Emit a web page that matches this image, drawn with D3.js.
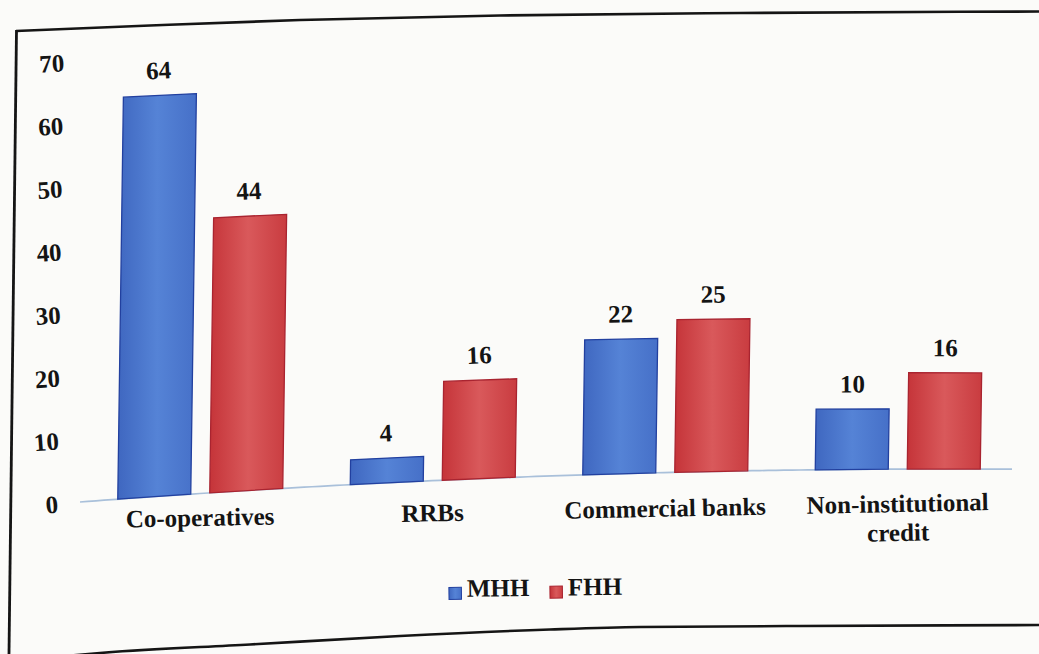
<!DOCTYPE html>
<html>
<head>
<meta charset="utf-8">
<script src="https://cdn.jsdelivr.net/npm/d3@7"></script>
<style>
  html, body { margin: 0; padding: 0; background: #fbfbf9; }
  svg { display: block; }
  text { font-family: "Liberation Serif", "Times New Roman", serif; font-weight: bold; fill: #141414; }
</style>
</head>
<body>
<svg id="chart" width="1039" height="654"></svg>
<script>
// Source of credit by household head (%)
const categories = ["Co-operatives", "RRBs", "Commercial banks", "Non-institutional credit"];
const categoryLines = [["Co-operatives"], ["RRBs"], ["Commercial banks"], ["Non-institutional", "credit"]];
const seriesNames = ["MHH", "FHH"];
const mhhValues = [64, 4, 22, 10];
const fhhValues = [44, 16, 25, 16];
const yTickValues = [0, 10, 20, 30, 40, 50, 60, 70];

const svg = d3.select("#chart");

// The printed figure lies on a gently curled page: chart-space points
// (x along the axis, h = height above the axis) are projected onto it.
const SHEAR = 0.014;
const baseY = x => 469 + 4.36e-5 * (x - 950) * (x - 950);
const depth = x => (6.32 - 0.00032 * x) / 6.3;
const project = (x, h) => [x + SHEAR * h, baseY(x) - h * depth(x)];
const slopeAt = (x, h) => (project(x + 1, h)[1] - project(x - 1, h)[1]) / 2;
const deg = s => Math.atan(s) * 180 / Math.PI;

// scales
const x0 = d3.scaleBand().domain(categories).range([84, 1014]);
const x1 = d3.scaleBand().domain(seriesNames).range([33.75, 198.75]).paddingInner(0.2065);
const y = d3.scaleLinear().domain([0, 70]).range([0, 441]);
const fillId = d3.scaleOrdinal().domain(seriesNames).range(["gradMHH", "gradFHH"]);
const edge = d3.scaleOrdinal().domain(seriesNames).range(["#22409f", "#a92430"]);

// bar gradients
const defs = svg.append("defs");
const gradStops = {
  gradMHH: ["#3f67c0", "#5583d6", "#4670c8"],
  gradFHH: ["#c53439", "#d9595b", "#c93c40"]
};
Object.entries(gradStops).forEach(([id, cols]) => {
  const g = defs.append("linearGradient").attr("id", id)
    .attr("x1", "0%").attr("x2", "100%").attr("y1", "0%").attr("y2", "0%");
  g.append("stop").attr("offset", "0%").attr("stop-color", cols[0]);
  g.append("stop").attr("offset", "50%").attr("stop-color", cols[1]);
  g.append("stop").attr("offset", "100%").attr("stop-color", cols[2]);
});

// outer frame of the figure
const frameLine = d3.line().curve(d3.curveMonotoneX);
svg.append("path")
  .attr("d", frameLine([[16, 31], [150, 25.5], [300, 20], [500, 15.5], [740, 13], [1039, 11.5]]))
  .attr("fill", "none").attr("stroke", "#151515").attr("stroke-width", 2.6);
svg.append("path")
  .attr("d", d3.line()([[16.5, 30], [9, 654]]))
  .attr("fill", "none").attr("stroke", "#151515").attr("stroke-width", 2.8);
svg.append("path")
  .attr("d", frameLine([[60, 656.5], [100, 653], [250, 644.5], [400, 636], [550, 629.5], [640, 627], [800, 626], [1039, 625]]))
  .attr("fill", "none").attr("stroke", "#151515").attr("stroke-width", 2.6);

// rows of data
const rows = categories.map((c, i) => ({
  cat: c,
  lines: categoryLines[i],
  values: [
    { s: "MHH", v: mhhValues[i] },
    { s: "FHH", v: fhhValues[i] }
  ]
}));

// y tick labels (no tick lines, no axis line)
const yAxis = svg.append("g").attr("class", "y-axis");
yAxis.selectAll("text").data(yTickValues).join("text")
  .attr("transform", t => {
    const p = project(58, y(t));
    return `translate(${p[0]},${p[1]}) rotate(${deg(slopeAt(58, y(t)))})`;
  })
  .attr("text-anchor", "end")
  .attr("dy", "0.35em")
  .attr("font-size", 25)
  .text(t => t);

// category axis line
const axisXs = d3.range(80, 1013, 8).concat([1012]);
svg.append("path")
  .attr("d", d3.line()(axisXs.map(x => project(x, 0))))
  .attr("fill", "none").attr("stroke", "#a9c0da").attr("stroke-width", 1.7);

// bars
const bw = x1.bandwidth();
const barPath = (x, w, h) => {
  const pts = [project(x, 0), project(x + w, 0), project(x + w, h), project(x, h)];
  return "M" + pts.map(p => p.join(",")).join("L") + "Z";
};
const groups = svg.append("g").selectAll("g").data(rows).join("g");
groups.selectAll("path").data(d => d.values.map(v => ({ ...v, cat: d.cat }))).join("path")
  .attr("d", d => barPath(x0(d.cat) + x1(d.s), bw, y(d.v)))
  .attr("fill", d => `url(#${fillId(d.s)})`)
  .attr("stroke", d => edge(d.s))
  .attr("stroke-width", 1.3);

// value labels
groups.selectAll("text").data(d => d.values.map(v => ({ ...v, cat: d.cat }))).join("text")
  .attr("transform", d => {
    const xc = x0(d.cat) + x1(d.s) + bw / 2;
    const p = project(xc, y(d.v));
    return `translate(${p[0]},${p[1]}) rotate(${deg(slopeAt(xc, y(d.v)))})`;
  })
  .attr("y", -16.5)
  .attr("text-anchor", "middle")
  .attr("font-size", 25)
  .text(d => d.v);

// category labels: the row below the axis lies flatter on the page
const labelRowY = x => 530 - 0.02 * x;
const catLabels = svg.append("g").selectAll("text").data(rows).join("text")
  .attr("transform", d => {
    const xc = x0(d.cat) + x0.bandwidth() / 2;
    return `translate(${xc},${labelRowY(xc)}) rotate(${deg(-0.02)})`;
  })
  .attr("text-anchor", "middle")
  .attr("font-size", 25);
catLabels.selectAll("tspan").data(d => d.lines).join("tspan")
  .attr("x", 0)
  .attr("dy", (l, i) => i === 0 ? 0 : 29)
  .text(l => l);

// legend
const legendStep = 101;
const legend = svg.append("g").attr("transform", `translate(449,597) rotate(${deg(-0.013)})`);
const item = legend.selectAll("g").data(seriesNames).join("g")
  .attr("transform", (s, i) => `translate(${i * legendStep},0)`);
item.append("rect")
  .attr("x", 0).attr("y", -9.5).attr("width", 12.5).attr("height", 12)
  .attr("fill", s => `url(#${fillId(s)})`)
  .attr("stroke", s => edge(s)).attr("stroke-width", 1);
item.append("text")
  .attr("x", 18).attr("y", 0)
  .attr("font-size", 25)
  .text(s => s);
</script>
</body>
</html>
